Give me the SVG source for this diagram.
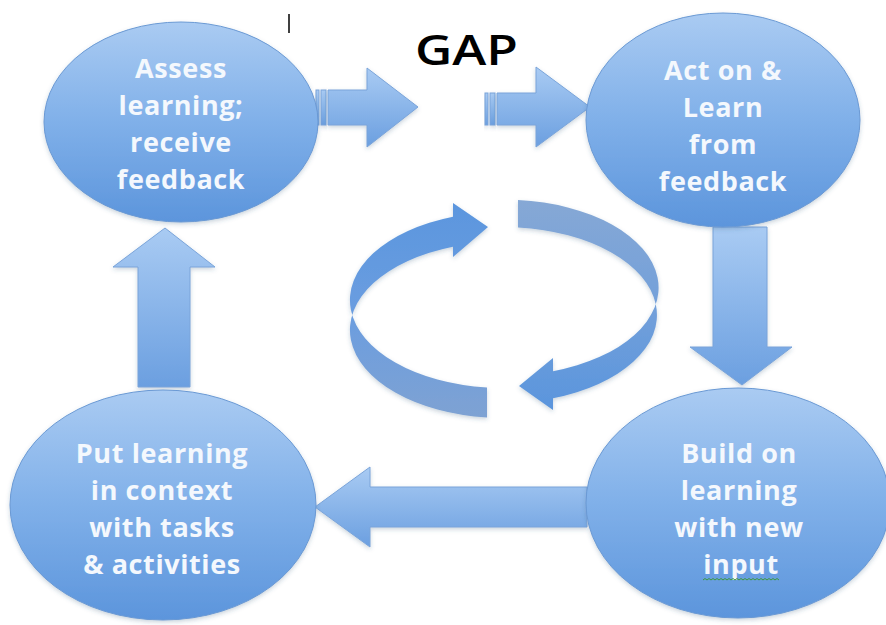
<svg xmlns="http://www.w3.org/2000/svg" width="886" height="625" viewBox="0 0 886 625">
<defs>
  <linearGradient id="gNode" x1="0" y1="0" x2="0" y2="1">
    <stop offset="0" stop-color="#aacbf2"/>
    <stop offset="0.5" stop-color="#80b0e9"/>
    <stop offset="1" stop-color="#5c95dc"/>
  </linearGradient>
  <linearGradient id="gArrow" x1="0" y1="0" x2="0" y2="1">
    <stop offset="0" stop-color="#a9cbf3"/>
    <stop offset="1" stop-color="#6b9fe0"/>
  </linearGradient>
  <linearGradient id="gRingL" x1="0" y1="0" x2="0" y2="1">
    <stop offset="0" stop-color="#5b96de"/>
    <stop offset="0.5" stop-color="#6a9de0"/>
    <stop offset="1" stop-color="#7ea2d3"/>
  </linearGradient>
  <linearGradient id="gRingR" x1="0" y1="0" x2="0" y2="1">
    <stop offset="0" stop-color="#86a8d5"/>
    <stop offset="0.5" stop-color="#73a0da"/>
    <stop offset="1" stop-color="#5a95dd"/>
  </linearGradient>
  <filter id="sh" x="-10%" y="-10%" width="120%" height="130%">
    <feDropShadow dx="0" dy="2" stdDeviation="2" flood-color="#335577" flood-opacity="0.25"/>
  </filter>
</defs>
<style>
  .node { fill: url(#gNode); stroke: #6a99d4; stroke-width: 1; filter: url(#sh); }
  .arrow { fill: url(#gArrow); stroke: #7aa4da; stroke-width: 1; filter: url(#sh); }
  .lbl { font-family: "Open Sans", "Liberation Sans", sans-serif; font-weight: 700; font-size: 27px; letter-spacing: 0.6px; fill: #f4f8fd; text-anchor: middle; }
  .gap { font-family: "Open Sans", "Liberation Sans", sans-serif; font-weight: 600; font-size: 42px; fill: #000; }
</style>
<rect width="886" height="625" fill="#ffffff"/>

<line x1="289" y1="14" x2="289" y2="33" stroke="#000" stroke-width="1.5"/>
<text class="gap" x="415" y="65" textLength="103" lengthAdjust="spacingAndGlyphs">GAP</text>

<g id="connectors">
  <rect class="arrow" x="316" y="90" width="3" height="35"/>
  <rect class="arrow" x="321" y="90" width="5" height="35"/>
  <polygon class="arrow" points="328,90 367,90 367,68 418,107 367,147 367,125 328,125"/>
  <rect class="arrow" x="485" y="93" width="3" height="32"/>
  <rect class="arrow" x="490" y="93" width="5" height="32"/>
  <polygon class="arrow" points="497,93 536,93 536,67 590,107 536,147 536,125 497,125"/>
  <polygon class="arrow" points="713,227 767,227 767,347 792,347 742,385 690,347 713,347"/>
  <polygon class="arrow" points="315,507 370,467 370,487 587,487 587,527 370,527 370,547"/>
  <polygon class="arrow" points="165,228 215,267 190,267 190,387 138,387 138,267 113,267"/>
</g>

<g id="cycle">
  <path fill="url(#gRingL)" filter="url(#sh)" d="M453,216.8 A153,88 0 0 0 487,387.5 L487,417.5 A153,88 0 0 1 453,246.8 L453,257 L488,227 L453,203 Z"/>
  <path fill="url(#gRingR)" filter="url(#sh)" d="M518,200 A154,88 0 0 1 553,371.2 L553,358 L519,386 L553,410 L553,398.2 A154,88 0 0 0 518,227.4 Z"/>
</g>

<g id="node-assess">
  <ellipse class="node" cx="181" cy="122" rx="137" ry="100"/>
  <text class="lbl" x="181" y="78">Assess</text>
  <text class="lbl" x="181" y="115">learning;</text>
  <text class="lbl" x="181" y="152">receive</text>
  <text class="lbl" x="181" y="189">feedback</text>
</g>

<g id="node-act">
  <ellipse class="node" cx="723" cy="120" rx="137" ry="107"/>
  <text class="lbl" x="723" y="80">Act on &amp;</text>
  <text class="lbl" x="723" y="117">Learn</text>
  <text class="lbl" x="723" y="154">from</text>
  <text class="lbl" x="723" y="191">feedback</text>
</g>

<g id="node-build">
  <ellipse class="node" cx="738" cy="503" rx="152" ry="115"/>
  <text class="lbl" x="739" y="463">Build on</text>
  <text class="lbl" x="739" y="500">learning</text>
  <text class="lbl" x="739" y="537">with new</text>
  <text class="lbl" x="741" y="574">input</text>
  <path d="M703,580 l2,-1.5 l2,1.5 l2,-1.5 l2,1.5 l2,-1.5 l2,1.5 l2,-1.5 l2,1.5 l2,-1.5 l2,1.5 l2,-1.5 l2,1.5 l2,-1.5 l2,1.5 l2,-1.5 l2,1.5 l2,-1.5 l2,1.5 l2,-1.5 l2,1.5 l2,-1.5 l2,1.5 l2,-1.5 l2,1.5 l2,-1.5 l2,1.5 l2,-1.5 l2,1.5 l2,-1.5 l2,1.5 l2,-1.5 l2,1.5 l2,-1.5 l2,1.5 l2,-1.5 l2,1.5 l2,-1.5 l2,1.5" fill="none" stroke="#3f9a3a" stroke-width="1"/>
</g>

<g id="node-put">
  <ellipse class="node" cx="163" cy="505" rx="153" ry="115"/>
  <text class="lbl" x="162" y="463">Put learning</text>
  <text class="lbl" x="162" y="500">in context</text>
  <text class="lbl" x="162" y="537">with tasks</text>
  <text class="lbl" x="162" y="574">&amp; activities</text>
</g>
</svg>
